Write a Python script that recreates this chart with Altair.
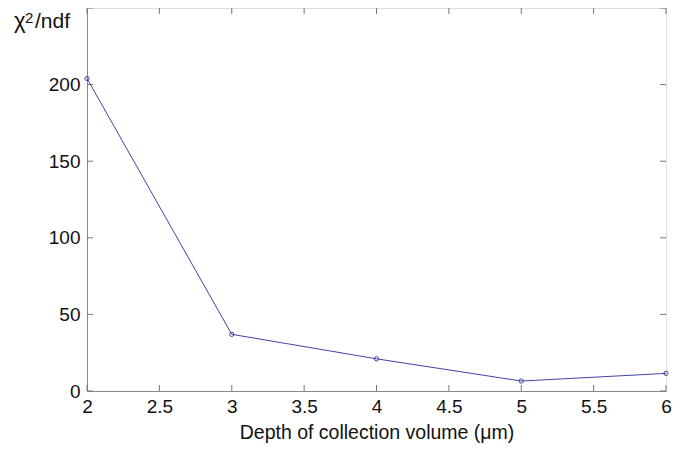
import altair as alt
import pandas as pd

depth = [2, 3, 4, 5, 6]
chi2 = [204, 37, 21, 6.5, 11.5]
x_ticks = [2, 2.5, 3, 3.5, 4, 4.5, 5, 5.5, 6]
y_ticks = [0, 50, 100, 150, 200, 250]
ytitle_parts = ["\u03c7", "2", "/ndf"]

W, H = 579, 383
FONT = "Liberation Sans"
AXIS_COLOR = "#8a8a8a"
LINE_COLOR = "#4343a8"
TEXT_COLOR = "#111"

df = pd.DataFrame({"depth": depth, "chi2": chi2})
xt = pd.DataFrame({"x": x_ticks})
yt = pd.DataFrame({"y": y_ticks})

xscale = alt.Scale(domain=[2, 6], nice=False, zero=False)
yscale = alt.Scale(domain=[0, 250], nice=False)

x_axis = alt.Axis(
    values=x_ticks, format="~g", tickSize=0, grid=False, domain=True, domainColor=AXIS_COLOR,
    labelFont=FONT, labelFontSize=19, labelColor=TEXT_COLOR, labelPadding=6,
    labelFlush=False, labelOverlap=False,
    title="Depth of collection volume (\u03bcm)", titleFont=FONT,
    titleFontSize=19.5, titleFontWeight="normal", titleColor=TEXT_COLOR, titlePadding=7,
)
y_axis = alt.Axis(
    values=y_ticks, tickSize=0, grid=False, domain=True, domainColor=AXIS_COLOR,
    labelFont=FONT, labelFontSize=19, labelColor=TEXT_COLOR, labelPadding=7,
    labelFlush=False, labelOverlap=False,
    labelExpr="datum.value == 250 ? '' : datum.label",
    title=None,
)

line = alt.Chart(df).mark_line(
    color=LINE_COLOR, strokeWidth=1,
    point=alt.OverlayMarkDef(filled=False, color=LINE_COLOR, size=18, strokeWidth=1),
).encode(
    x=alt.X("depth:Q", scale=xscale, axis=x_axis),
    y=alt.Y("chi2:Q", scale=yscale, axis=y_axis),
)

tick_color = "#777"
xb = alt.Chart(xt).mark_rule(color=tick_color, strokeWidth=1).encode(
    x=alt.X("x:Q", scale=xscale), y=alt.value(H), y2=alt.value(H - 6))
xtp = alt.Chart(xt).mark_rule(color=tick_color, strokeWidth=1).encode(
    x=alt.X("x:Q", scale=xscale), y=alt.value(0), y2=alt.value(6))
yl = alt.Chart(yt).mark_rule(color=tick_color, strokeWidth=1).encode(
    y=alt.Y("y:Q", scale=yscale), x=alt.value(0), x2=alt.value(6))
yr = alt.Chart(yt).mark_rule(color=tick_color, strokeWidth=1).encode(
    y=alt.Y("y:Q", scale=yscale), x=alt.value(W), x2=alt.value(W - 6))

# y-axis title "chi^2/ndf" written horizontally at the top left
t_chi = alt.Chart(pd.DataFrame({"t": [ytitle_parts[0]]})).mark_text(
    font=FONT, fontSize=22, color=TEXT_COLOR, align="left", baseline="alphabetic"
).encode(text="t:N", x=alt.value(-73), y=alt.value(20))
t_sup = alt.Chart(pd.DataFrame({"t": [ytitle_parts[1]]})).mark_text(
    font=FONT, fontSize=15, color=TEXT_COLOR, align="left", baseline="alphabetic"
).encode(text="t:N", x=alt.value(-62), y=alt.value(15))
t_ndf = alt.Chart(pd.DataFrame({"t": [ytitle_parts[2]]})).mark_text(
    font=FONT, fontSize=21, color=TEXT_COLOR, align="left", baseline="alphabetic"
).encode(text="t:N", x=alt.value(-52), y=alt.value(20))

chart = alt.layer(xb, xtp, yl, yr, line, t_chi, t_sup, t_ndf).properties(
    width=W, height=H,
    autosize=alt.AutoSizeParams(type="none"),
    padding={"left": 79, "top": 0, "right": 14, "bottom": 57},
).configure_view(stroke=AXIS_COLOR, strokeWidth=1).configure(background="white")

chart.save("out.html", embed_options={"renderer": "svg", "actions": False})
